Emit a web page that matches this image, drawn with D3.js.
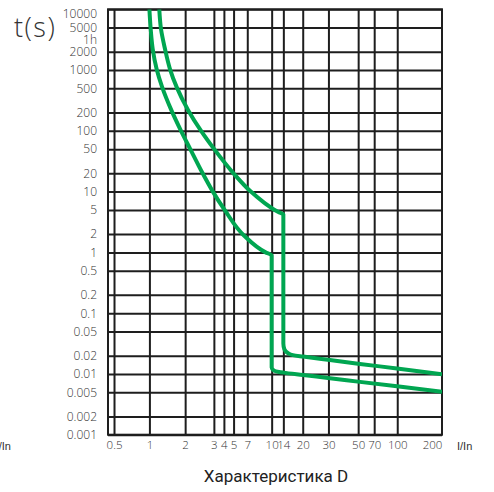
<!DOCTYPE html>
<html>
<head>
<meta charset="utf-8">
<script src="https://cdn.jsdelivr.net/npm/d3@7"></script>
<style>
  body { margin: 0; background: white; }
  svg { display: block; }
</style>
</head>
<body>
<svg id="chart"></svg>
<script>
// tick values (I/In and seconds)
var xTicks = [0.5, 1, 2, 3, 4, 5, 7, 10, 14, 20, 30, 50, 70, 100, 200];
var yTicks = [0.001, 0.002, 0.005, 0.01, 0.02, 0.05, 0.1, 0.2, 0.5, 1, 2, 5, 10, 20, 50, 100, 200, 500, 1000, 2000, 5000, 10000];
var yTickLabels = ["0.001", "0.002", "0.005", "0.01", "0.02", "0.05", "0.1", "0.2", "0.5", "1", "2", "5", "10", "20", "50", "100", "200", "500", "1000", "2000", "5000", "10000"];

// lower curve (left)
var lowerI = [1.0, 1.025, 1.066, 1.15, 1.28, 1.53, 1.85, 2.15, 2.56, 2.95, 4.1, 6.45, 9.15, 10, 10, 10.69, 12.34, 14, 20.1, 30.8, 51.9, 99.6, 240];
var lowerT = [10000, 4730, 2220, 1040, 524, 219, 99, 50, 20, 10.1, 4.9, 1.9, 1.0, 0.89, 0.0127, 0.01135, 0.01079, 0.01051, 0.0096, 0.0085, 0.0074, 0.00625, 0.0051];

// upper curve (right)
var upperI = [1.211, 1.252, 1.353, 1.49, 1.697, 2.086, 2.51, 3.03, 4.99, 7.34, 8.91, 12.1, 14, 14, 14.29, 15.24, 16.7, 20.1, 30.8, 51.9, 99.6, 240];
var upperT = [10000, 4730, 2220, 1040, 524, 219, 99, 50, 20, 10.1, 6.67, 4.61, 4.23, 0.0316, 0.0252, 0.022, 0.0204, 0.0193, 0.0169, 0.0146, 0.0123, 0.0099];

var W = 494, H = 492;
var margin = {top: 9.3, right: 52, bottom: 57.3, left: 108},
    width = W - margin.left - margin.right,
    height = H - margin.top - margin.bottom;

var svg = d3.select("#chart").attr("width", W).attr("height", H);
var g = svg.append("g").attr("transform", "translate(" + margin.left + "," + margin.top + ")");

// the printed axis is a hand drawn log grid, so it is a piecewise log scale
var xStops = [0.445, 0.5, 1, 2, 3, 4, 5, 7, 10, 14, 20, 30, 50, 70, 100, 200, 240];
var xFrac = [0, 0.018, 0.124, 0.231, 0.317, 0.347, 0.376, 0.417, 0.490, 0.525, 0.583, 0.660, 0.749, 0.797, 0.866, 0.970, 1];
var x = d3.scaleLog().domain(xStops).range(xFrac.map(f => f * width));
var y = d3.scaleLog().domain([0.001, 10000]).range([height, 0]);

var gridColor = "#1e1e1e";
var labelFont = "'Open Sans', sans-serif";

// horizontal grid + labels
var yAxis = g.append("g")
  .call(d3.axisLeft(y).tickValues(yTicks).tickSize(-width).tickPadding(11)
    .tickFormat((d, i) => yTickLabels[i]));
yAxis.select(".domain").remove();
yAxis.selectAll("line").attr("stroke", gridColor).attr("stroke-width", 2);
yAxis.selectAll("text")
  .attr("fill", "#333").style("font-family", labelFont).style("font-size", "12px").style("font-weight", 300)
  .filter(d => d === 10000).attr("dy", "0.7em");

g.append("text")
  .attr("x", -11).attr("y", y(3600)).attr("dy", "0.64em")
  .attr("text-anchor", "end").attr("fill", "#333")
  .style("font-family", labelFont).style("font-size", "12px").style("font-weight", 300)
  .text("1h");

// vertical grid + labels
var xAxis = g.append("g")
  .attr("transform", "translate(0," + height + ")")
  .call(d3.axisBottom(x).tickValues(xTicks).tickSize(-height).tickPadding(6.5)
    .tickFormat(d3.format("")));
xAxis.select(".domain").remove();
xAxis.selectAll("line").attr("stroke", gridColor).attr("stroke-width", 2)
  .filter(d => d === 200).remove();
xAxis.selectAll("text")
  .attr("fill", "#333").style("font-family", labelFont).style("font-size", "11.5px").style("font-weight", 300);

// frame
g.append("rect")
  .attr("width", width).attr("height", height)
  .attr("fill", "none").attr("stroke", gridColor).attr("stroke-width", 2);

// curves
var line = d3.line().curve(d3.curveMonotoneY);
var curves = [[lowerI, lowerT], [upperI, upperT]];

g.append("clipPath").attr("id", "plotclip")
  .append("rect").attr("width", width).attr("height", height);

g.selectAll("path.curve")
  .data(curves)
  .enter().append("path")
    .attr("class", "curve")
    .attr("clip-path", "url(#plotclip)")
    .attr("d", c => line(c[0].map((v, i) => [x(v), y(c[1][i])])))
    .attr("fill", "none")
    .attr("stroke", "#00a651")
    .attr("stroke-width", 4)
    .attr("stroke-linejoin", "round");

// axis titles
svg.append("text")
  .attr("x", 14).attr("y", 37)
  .attr("fill", "#333")
  .style("font-family", labelFont).style("font-size", "27px").style("font-weight", 300)
  .style("letter-spacing", "1.5px")
  .text("t(s)");

svg.append("text")
  .attr("x", margin.left + width + 15).attr("y", margin.top + height + 15)
  .attr("fill", "#333")
  .style("font-family", "'Liberation Sans', Arial, sans-serif").style("font-size", "11px")
  .text("I/In");

svg.append("text")
  .attr("x", 11).attr("y", margin.top + height + 15)
  .attr("text-anchor", "end")
  .attr("fill", "#333")
  .style("font-family", "'Liberation Sans', Arial, sans-serif").style("font-size", "11px")
  .text("I/In");

svg.append("text")
  .attr("x", margin.left + width * 0.5 + 1).attr("y", 481.5)
  .attr("text-anchor", "middle")
  .attr("fill", "#222")
  .style("font-family", "Roboto, sans-serif").style("font-size", "17px")
  .text("Характеристика D");
</script>
</body>
</html>
